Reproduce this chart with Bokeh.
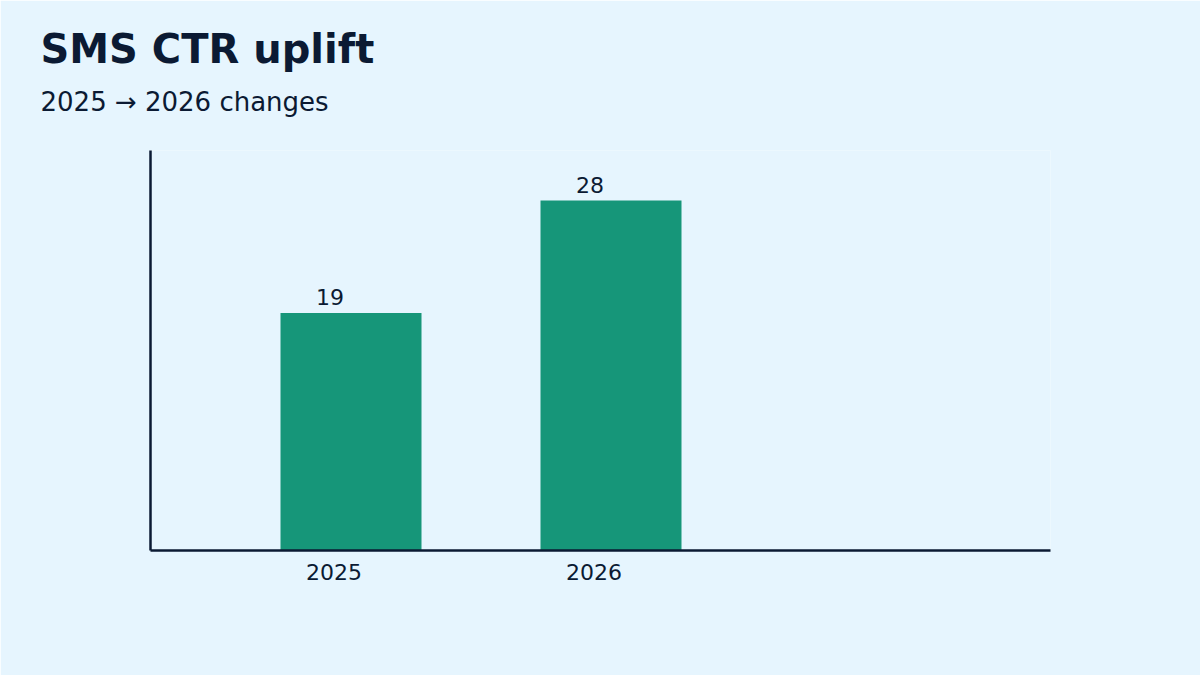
from bokeh.plotting import figure
from bokeh.models import ColumnDataSource, LabelSet, FixedTicker, Range1d, Title
from bokeh.core.properties import value
from bokeh.transform import dodge
from bokeh.embed import file_html
from bokeh.resources import INLINE

# data
categories = ["2025", "2026"]
values = [19, 28]
title_text = "SMS CTR uplift"
subtitle_text = "2025 \u2192 2026 changes"

BG = "#e6f5fe"
BAR = "#169679"
INK = "#0b1a33"
FONT = "DejaVu Sans"

W, H = 1200, 675
p = figure(width=W, height=H, output_backend="svg", toolbar_location=None,
           x_range=Range1d(-0.7058, 2.7558), y_range=Range1d(0, 32),
           min_border_left=150, min_border_right=150,
           min_border_top=150, min_border_bottom=125, title=None)
p.background_fill_color = BG
p.border_fill_color = BG
p.outline_line_color = None
p.grid.visible = False

xs = list(range(len(categories)))

xa = p.xaxis[0]
xa.ticker = FixedTicker(ticks=xs)
xa.major_label_overrides = {i: c for i, c in zip(xs, categories)}
xa.major_label_text_font = FONT
xa.major_label_text_font_size = "22px"
xa.major_label_text_color = INK
xa.major_label_standoff = 13
xa.major_tick_out = 0
xa.major_tick_in = 0
xa.minor_tick_out = 0
xa.minor_tick_in = 0
xa.major_tick_line_color = None
xa.minor_tick_line_color = None

ya = p.yaxis[0]
ya.ticker = FixedTicker(ticks=[])
ya.major_tick_line_color = None
ya.minor_tick_line_color = None
ya.major_label_text_font_size = "0px"

for ax in (xa, ya):
    ax.axis_line_color = INK
    ax.axis_line_width = 2.5

src = ColumnDataSource(dict(x=xs, cat=categories, val=values,
                            txt=[str(v) for v in values]))

bar_shift = 17 / 260.0
p.vbar(x=dodge("x", bar_shift, range=p.x_range), top="val", bottom=0,
       width=0.5423, source=src, fill_color=BAR, line_color=None)

p.add_layout(LabelSet(x="x", y="val", text="txt", source=src,
                      x_offset=-4, y_offset=8, text_align="center",
                      text_baseline="alphabetic", text_font=value(FONT),
                      text_font_size=value("22px"), text_color=value(INK)))

p.add_layout(Title(text=subtitle_text, align="left", offset=-110, standoff=68,
                   text_font=FONT, text_font_size="26px",
                   text_font_style="normal", text_color=INK), "above")
p.add_layout(Title(text=title_text, align="left", offset=-110, standoff=-43,
                   text_font=FONT, text_font_size="40px",
                   text_font_style="bold", text_color=INK), "above")

html = file_html(p, INLINE)
open("out.html", "w").write(html)
